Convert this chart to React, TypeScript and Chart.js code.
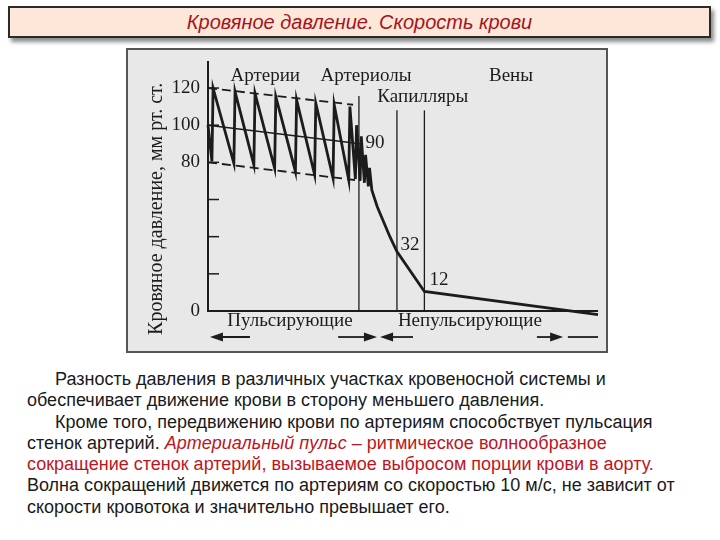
import React, { useEffect, useRef } from "react";
import { Chart, registerables } from "chart.js";

Chart.register(...registerables);

// ---- data (x: distance along the vascular bed, arbitrary units 0..100; y: mm Hg) ----
const pressureX = [0, 1.0, 1.3, 6.6, 6.9, 11.7, 12.0, 17.0, 17.3, 22.3, 22.6, 27.2, 27.5, 31.9, 32.2, 35.9, 36.2, 37.6, 37.9, 38.8, 39.1, 39.9, 40.2, 40.9, 41.2, 41.8, 43.2, 44.6, 46.4, 48.2, 55.2, 99.5];
const pressureY = [100, 80.4, 119.9, 79.5, 118, 78.6, 117.1, 76.8, 115.3, 75.1, 113.6, 73.3, 111.8, 71.4, 110.9, 70.5, 110, 71, 100, 70, 94, 69, 84, 67, 77, 65, 56, 49, 40, 32, 10.5, -2];
const meanX = [0, 38.8];
const meanY = [100, 90];
const upperX = [0, 37];
const upperY = [120, 111];
const lowerX = [0, 37.5];
const lowerY = [80, 70.5];
const boundaryX = [38.5, 48.2, 55.2];
const boundaryTop = [115.7, 108, 108];

const yTickLabels = [0, 80, 100, 120];
const yTickMarks = [20, 40, 60, 80, 100, 120];
const Y_MAX = 134;
const X_MAX = 100;
const AXIS_END = 99.5;

const regionNames = ["Артерии", "Артериолы", "Вены", "Капилляры"];
const regionX = [14.6, 40.3, 77.3, 54.8];
const regionY = [126.5, 126.5, 126.5, 115.2];

const valueNames = ["90", "32", "12"];
const valueX = [42.6, 51.5, 58.9];
const valueY = [90.4, 35.5, 16.7];

const bottomNames = ["Пульсирующие", "Непульсирующие"];
const bottomX = [20.9, 66.8];
const bottomY = -5.6;

const arrowFrom = [10.7, 33.2, 52.3, 83.9, 91.8];
const arrowTo = [0.5, 43.1, 43.9, 90.6, 99.5];
const arrowHead = [true, true, true, true, false];
const arrowY = -14;

const Y_TITLE = "Кровяное давление, мм рт. ст.";

const INK = "#1c1c1c";
const SERIF = "'Liberation Serif', 'DejaVu Serif', serif";

const pts = (xs: number[], ys: number[]) => xs.map((x, i) => ({ x, y: ys[i] }));

const overlay = {
  id: "overlay",
  afterDatasetsDraw(chart: any) {
    const { ctx, chartArea, scales } = chart;
    const xs = scales.x;
    const ys = scales.y;
    const px = (v: number) => xs.getPixelForValue(v);
    const py = (v: number) => ys.getPixelForValue(v);
    ctx.save();
    ctx.strokeStyle = INK;
    ctx.fillStyle = INK;
    // x axis line
    ctx.lineWidth = 2;
    ctx.beginPath();
    ctx.moveTo(chartArea.left, py(0));
    ctx.lineTo(px(AXIS_END), py(0));
    ctx.stroke();
    // inward tick marks
    ctx.lineWidth = 1.5;
    yTickMarks.forEach((v) => {
      ctx.beginPath();
      ctx.moveTo(chartArea.left, py(v));
      ctx.lineTo(chartArea.left + 11, py(v));
      ctx.stroke();
    });
    // labels
    ctx.textAlign = "center";
    ctx.textBaseline = "middle";
    ctx.font = `19px ${SERIF}`;
    regionNames.forEach((t, i) => ctx.fillText(t, px(regionX[i]), py(regionY[i])));
    valueNames.forEach((t, i) => ctx.fillText(t, px(valueX[i]), py(valueY[i])));
    bottomNames.forEach((t, i) => ctx.fillText(t, px(bottomX[i]), py(bottomY)));
    // arrows
    arrowFrom.forEach((f, i) => {
      const x0 = px(f);
      const x1 = px(arrowTo[i]);
      const yy = py(arrowY);
      const dir = Math.sign(x1 - x0);
      ctx.lineWidth = 1.8;
      ctx.beginPath();
      ctx.moveTo(x0, yy);
      ctx.lineTo(arrowHead[i] ? x1 - dir * 8 : x1, yy);
      ctx.stroke();
      if (arrowHead[i]) {
        ctx.beginPath();
        ctx.moveTo(x1, yy);
        ctx.lineTo(x1 - dir * 13, yy - 4.5);
        ctx.lineTo(x1 - dir * 13, yy + 4.5);
        ctx.closePath();
        ctx.fill();
      }
    });
    // rotated y title
    ctx.save();
    ctx.translate(chartArea.left - 51, py(55));
    ctx.rotate(-Math.PI / 2);
    ctx.font = `20px ${SERIF}`;
    ctx.fillText(Y_TITLE, 0, 0);
    ctx.restore();
    ctx.restore();
  },
};

function PressureChart() {
  const ref = useRef<HTMLCanvasElement | null>(null);
  useEffect(() => {
    if (!ref.current) return;
    const line = (data: any, extra: any = {}) => ({
      data,
      showLine: true,
      borderColor: INK,
      backgroundColor: INK,
      pointRadius: 0,
      pointHoverRadius: 0,
      tension: 0,
      fill: false,
      clip: false,
      ...extra,
    });
    const datasets: any[] = [
      line(pts(upperX, upperY), { borderWidth: 1.8, borderDash: [9, 5] }),
      line(pts(lowerX, lowerY), { borderWidth: 1.8, borderDash: [9, 5] }),
      line(pts(meanX, meanY), { borderWidth: 1.6 }),
      ...boundaryX.map((bx, i) =>
        line(
          [
            { x: bx, y: 0 },
            { x: bx, y: boundaryTop[i] },
          ],
          { borderWidth: 1.3 }
        )
      ),
      line(pts(pressureX, pressureY), { borderWidth: 2.8, borderJoinStyle: "miter" }),
    ];
    const chart = new Chart(ref.current, {
      type: "scatter",
      data: { datasets },
      options: {
        animation: false,
        responsive: false,
        events: [],
        layout: { padding: { top: 12, right: 6, bottom: 40, left: 0 } },
        plugins: { legend: { display: false }, tooltip: { enabled: false } },
        scales: {
          x: { type: "linear", min: 0, max: X_MAX, display: false },
          y: {
            type: "linear",
            min: 0,
            max: Y_MAX,
            afterFit: (s: any) => {
              s.width = 80;
            },
            grid: { display: false },
            border: { display: true, color: INK, width: 2 },
            ticks: {
              stepSize: 20,
              padding: 0,
              color: INK,
              font: { family: SERIF, size: 19 },
              callback: (v: any) => (yTickLabels.includes(Number(v)) ? String(v) : ""),
            },
          },
        },
      },
      plugins: [overlay],
    });
    return () => chart.destroy();
  }, []);
  return <canvas ref={ref} width={478} height={301} style={{ display: "block" }} />;
}

const textLines: { parts: { t: string; red?: boolean; it?: boolean }[]; indent?: boolean }[] = [
  { indent: true, parts: [{ t: "Разность давления в различных участках кровеносной системы и" }] },
  { parts: [{ t: "обеспечивает движение крови в сторону меньшего давления." }] },
  { indent: true, parts: [{ t: "Кроме того, передвижению крови по артериям способствует пульсация" }] },
  {
    parts: [
      { t: "стенок артерий. " },
      { t: "Артериальный пульс –", red: true, it: true },
      { t: " ритмическое волнообразное", red: true },
    ],
  },
  { parts: [{ t: "сокращение стенок артерий, вызываемое выбросом порции крови в аорту.", red: true }] },
  { parts: [{ t: "Волна сокращений движется по артериям со скоростью 10 м/с, не зависит от" }] },
  { parts: [{ t: "скорости кровотока и значительно превышает его." }] },
];

export default function App() {
  return (
    <div
      style={{
        position: "fixed",
        left: 0,
        top: 0,
        width: 720,
        height: 540,
        background: "#ffffff",
        overflow: "hidden",
        fontFamily: "'Liberation Sans', Arial, sans-serif",
      }}
    >
      <div
        style={{
          position: "absolute",
          left: 8,
          top: 6,
          width: 699,
          height: 28,
          background: "#fde7d8",
          border: "2px solid #2a2a2a",
          boxShadow: "3px 4px 4px rgba(0,0,0,0.45)",
          display: "flex",
          alignItems: "center",
          justifyContent: "center",
          color: "#a5141c",
          fontStyle: "italic",
          fontSize: 20,
        }}
      >
        Кровяное давление. Скорость крови
      </div>
      <div
        style={{
          position: "absolute",
          left: 126,
          top: 48,
          width: 478,
          height: 301,
          background: "#e8e8e8",
          border: "2px solid #555555",
        }}
      >
        <PressureChart />
      </div>
      <div
        style={{
          position: "absolute",
          left: 27,
          top: 369,
          width: 690,
          fontSize: 18,
          lineHeight: "21.3px",
          color: "#1a1a1a",
          whiteSpace: "pre",
        }}
      >
        {textLines.map((ln, i) => (
          <div key={i} style={{ paddingLeft: ln.indent ? 28 : 0 }}>
            {ln.parts.map((p, j) => (
              <span key={j} style={{ color: p.red ? "#c0141c" : undefined, fontStyle: p.it ? "italic" : "normal" }}>
                {p.t}
              </span>
            ))}
          </div>
        ))}
      </div>
    </div>
  );
}
